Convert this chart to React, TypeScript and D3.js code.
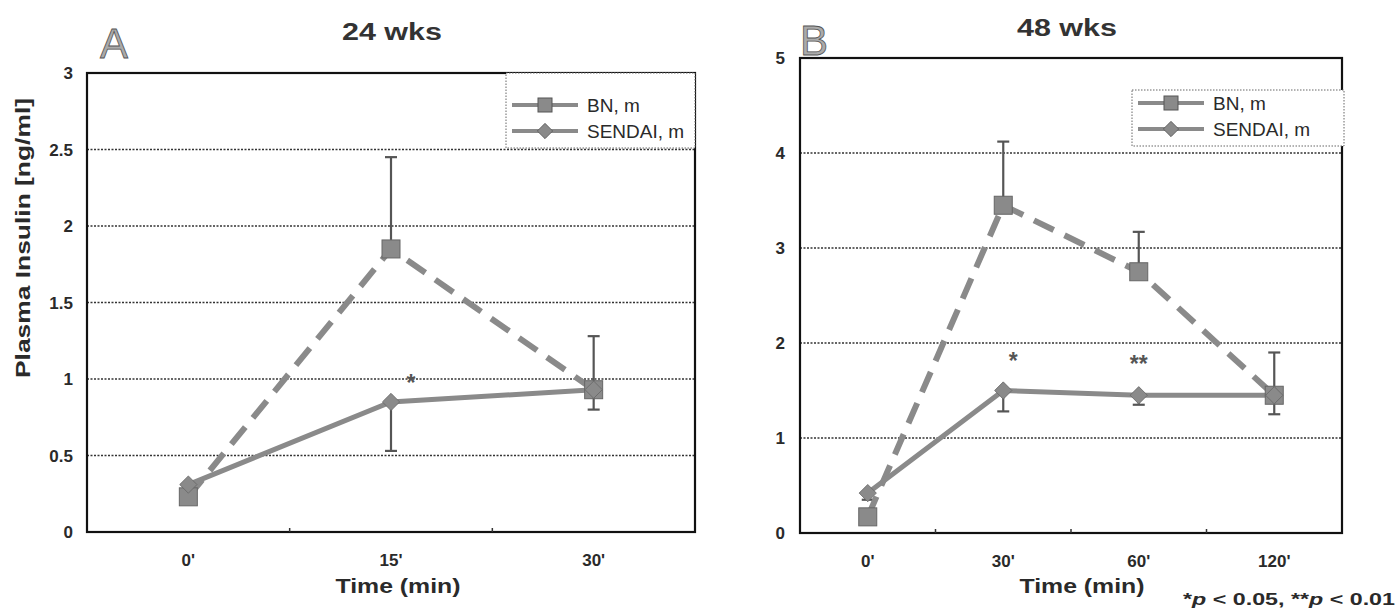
import * as d3 from 'd3';

// values (ng/ml)
const catsA = ["0'", "15'", "30'"];
const bnA = [0.23, 1.85, 0.93];
const bnUpperA = [0.3, 2.45, 1.28];
const sendaiA = [0.31, 0.85, 0.93];
const sendaiLowerA = [0.25, 0.53, 0.8];
const starsA = ['', '*', ''];
const starYA = [0, 1.0, 0];
const yTicksA = [0, 0.5, 1, 1.5, 2, 2.5, 3];

const catsB = ["0'", "30'", "60'", "120'"];
const bnB = [0.17, 3.45, 2.75, 1.45];
const bnUpperB = [0.25, 4.12, 3.17, 1.9];
const sendaiB = [0.42, 1.5, 1.45, 1.45];
const sendaiLowerB = [0.35, 1.28, 1.35, 1.25];
const starsB = ['', '*', '**', ''];
const starYB = [0, 1.85, 1.82, 0];
const yTicksB = [0, 1, 2, 3, 4, 5];

const LINE = '#8a8a8a';
const INK = '#2a2a2a';
const FONT = 'Liberation Sans, Arial, sans-serif';

function Panel(p: any) {
  const x = d3.scaleBand().domain(p.cats).range([p.x0, p.x1]);
  const y = d3.scaleLinear().domain([0, p.yMax]).range([p.y1, p.y0]);
  const cx = (c: string) => (x(c) as number) + x.bandwidth() / 2;
  const line = d3.line<number>().x((_, i) => cx(p.cats[i])).y((d) => y(d));
  const lg = p.legend;
  return (
    <g>
      {/* grid */}
      {p.yTicks.filter((t: number) => t > 0 && t < p.yMax).map((t: number) => (
        <line key={t} x1={p.x0} x2={p.x1} y1={y(t)} y2={y(t)} stroke="#333" strokeWidth={1.3} strokeDasharray="2,1.5" />
      ))}
      {/* frame */}
      <rect x={p.x0} y={p.y0} width={p.x1 - p.x0} height={p.y1 - p.y0} fill="none" stroke="#111" strokeWidth={2.2} />
      {/* tick marks between categories */}
      {p.cats.slice(1).map((c: string) => (
        <line key={c} x1={x(c)} x2={x(c)} y1={p.y1} y2={p.y1 - 4} stroke="#333" strokeWidth={1.5} />
      ))}
      {/* legend */}
      <rect x={lg.x} y={lg.y} width={lg.w} height={lg.h} fill="#fff" stroke="#666" strokeWidth={1} strokeDasharray="1.5,1.5" />
      <line x1={lg.x + 6} x2={lg.x + 72} y1={lg.y + lg.r1} y2={lg.y + lg.r1} stroke={LINE} strokeWidth={4} />
      <rect x={lg.x + 32} y={lg.y + lg.r1 - 7} width={14} height={14} fill={LINE} stroke="#555" strokeWidth={1} />
      <line x1={lg.x + 6} x2={lg.x + 72} y1={lg.y + lg.r2} y2={lg.y + lg.r2} stroke={LINE} strokeWidth={4} />
      <path d={d3.symbol(d3.symbolDiamond2, 150)() as string} transform={`translate(${lg.x + 39},${lg.y + lg.r2})`} fill={LINE} stroke="#555" strokeWidth={0.8} />
      <text x={lg.x + 81} y={lg.y + lg.r1 + 7} fontSize={19} fill={INK} fontFamily={FONT}>BN, m</text>
      <text x={lg.x + 81} y={lg.y + lg.r2 + 7} fontSize={19} fill={INK} fontFamily={FONT}>SENDAI, m</text>
      {/* error bars */}
      {p.cats.map((c: string, i: number) => (
        <g key={'e' + c} stroke="#555" strokeWidth={2.2}>
          <line x1={cx(c)} x2={cx(c)} y1={y(p.bn[i])} y2={y(p.bnUpper[i])} />
          <line x1={cx(c) - 6} x2={cx(c) + 6} y1={y(p.bnUpper[i])} y2={y(p.bnUpper[i])} />
          <line x1={cx(c)} x2={cx(c)} y1={y(p.sendai[i])} y2={y(p.sendaiLower[i])} />
          <line x1={cx(c) - 6} x2={cx(c) + 6} y1={y(p.sendaiLower[i])} y2={y(p.sendaiLower[i])} />
        </g>
      ))}
      {/* series */}
      <path d={line(p.bn) as string} fill="none" stroke={LINE} strokeWidth={6} strokeDasharray="22,12" />
      <path d={line(p.sendai) as string} fill="none" stroke={LINE} strokeWidth={5} />
      {p.bn.map((v: number, i: number) => (
        <rect key={'b' + i} x={cx(p.cats[i]) - 9} y={y(v) - 9} width={18} height={18} fill={LINE} stroke="#666" strokeWidth={1} />
      ))}
      {p.sendai.map((v: number, i: number) => (
        <path key={'s' + i} d={d3.symbol(d3.symbolDiamond2, 190)() as string} transform={`translate(${cx(p.cats[i])},${y(v)})`} fill={LINE} stroke="#666" strokeWidth={0.8} />
      ))}
      {/* significance */}
      {p.stars.map((s: string, i: number) => s && (
        <text key={'st' + i} x={cx(p.cats[i]) + p.starDx[i]} y={y(p.starY[i]) + 12} textAnchor="middle" fontSize={23} fontWeight="bold" fill="#555" fontFamily={FONT}>{s}</text>
      ))}
      {/* axes labels */}
      {p.yTicks.map((t: number) => (
        <text key={'yt' + t} x={p.tickX} y={y(t) + 6} textAnchor="end" fontSize={17} fontWeight="bold" fill={INK} fontFamily={FONT}>{String(t)}</text>
      ))}
      {p.cats.map((c: string) => (
        <text key={'xt' + c} x={cx(c)} y={p.y1 + 34} textAnchor="middle" fontSize={17} fontWeight="bold" fill={INK} fontFamily={FONT}>{c}</text>
      ))}
      <text x={p.xLabelX} y={593} textAnchor="middle" fontSize={21} fontWeight="bold" fill={INK} fontFamily={FONT} textLength={125} lengthAdjust="spacingAndGlyphs">Time (min)</text>
      <text x={p.titleX} y={p.titleY} textAnchor="middle" fontSize={23} fontWeight="bold" fill="#333" fontFamily={FONT} textLength={100} lengthAdjust="spacingAndGlyphs">{p.title}</text>
      <text x={p.letterX} y={p.letterY} fontSize={42} fill="#aaa" stroke="#555" strokeWidth={0.8} fontFamily={FONT}>{p.letter}</text>
    </g>
  );
}

export default function App() {
  return (
    <svg width={1396} height={612} style={{ position: 'absolute', left: 0, top: 0, background: '#fff' }}>
      <Panel
        x0={87} x1={695} y0={73} y1={532} yMax={3} yTicks={yTicksA} cats={catsA}
        bn={bnA} bnUpper={bnUpperA} sendai={sendaiA} sendaiLower={sendaiLowerA}
        stars={starsA} starY={starYA} starDx={[0, 20, 0]}
        legend={{ x: 506, y: 73, w: 189, h: 75, r1: 32, r2: 58 }}
        tickX={73} xLabelX={398} title="24 wks" titleX={392} titleY={40} letter="A" letterX={100} letterY={58}
      />
      <text transform="translate(30,238) rotate(-90)" textAnchor="middle" fontSize={21} fontWeight="bold" fill={INK} fontFamily={FONT} textLength={280} lengthAdjust="spacingAndGlyphs">Plasma Insulin [ng/ml]</text>
      <Panel
        x0={800} x1={1342} y0={58} y1={533} yMax={5} yTicks={yTicksB} cats={catsB}
        bn={bnB} bnUpper={bnUpperB} sendai={sendaiB} sendaiLower={sendaiLowerB}
        stars={starsB} starY={starYB} starDx={[0, 10, 0, 0]}
        legend={{ x: 1132, y: 90, w: 212, h: 56, r1: 13, r2: 39 }}
        tickX={785} xLabelX={1082} title="48 wks" titleX={1067} titleY={36} letter="B" letterX={800} letterY={55}
      />
      <text x={1183} y={605} fontSize={17} fontWeight="bold" fill={INK} fontFamily={FONT} textLength={212} lengthAdjust="spacingAndGlyphs">
        *<tspan fontStyle="italic">p</tspan> &lt; 0.05, **<tspan fontStyle="italic">p</tspan> &lt; 0.01
      </text>
    </svg>
  );
}
